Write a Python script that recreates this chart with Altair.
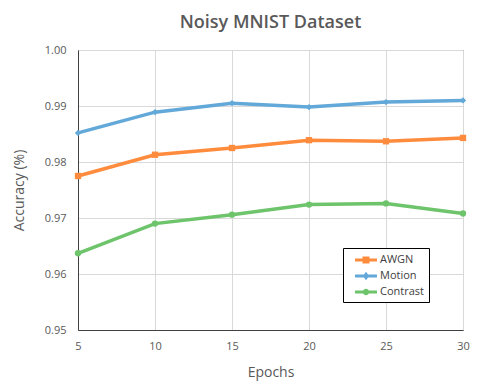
import altair as alt
import pandas as pd

epochs = [5, 10, 15, 20, 25, 30]
awgn = [0.9775, 0.9813, 0.9825, 0.9839, 0.9837, 0.9843]
motion = [0.9852, 0.9889, 0.9905, 0.9898, 0.9907, 0.9910]
contrast = [0.9637, 0.9690, 0.9706, 0.9724, 0.9726, 0.9708]
series_names = ["AWGN", "Motion", "Contrast"]
colors = ["#FF8B3D", "#62A8D8", "#6DC46B"]

rows = []
for name, vals in zip(series_names, [awgn, motion, contrast]):
    for e, v in zip(epochs, vals):
        rows.append({"Epochs": e, "Accuracy": v, "Series": name})
df = pd.DataFrame(rows)

FONT = "Open Sans"
GRAY = "#595959"

x = alt.X("Epochs:Q", scale=alt.Scale(domain=[5, 30], nice=False),
          axis=alt.Axis(values=epochs, title="Epochs", format="d", labelFlush=False))
y = alt.Y("Accuracy:Q", scale=alt.Scale(domain=[0.95, 1.0], nice=False, zero=False),
          axis=alt.Axis(values=[0.95, 0.96, 0.97, 0.98, 0.99, 1.0], format=".2f",
                        title="Accuracy (%)", labelFlush=False))
cscale = alt.Scale(domain=series_names, range=colors)

lines = alt.Chart(df).mark_line(strokeWidth=3.5).encode(
    x=x, y=y, color=alt.Color("Series:N", scale=cscale, legend=None)
)

pts = alt.Chart(df).mark_point(filled=True, opacity=1, size=40).encode(
    x=x, y=y,
    color=alt.Color("Series:N", scale=cscale, legend=None),
    shape=alt.Shape("Series:N", scale=alt.Scale(domain=series_names,
                                                range=["square", "diamond", "circle"]), legend=None),
)

lw = 0.22
L = 1.57
line_path = "M-{L},-{a}L{L},-{a}L{L},{a}L-{L},{a}Z".format(a=lw, L=L)
leg_shapes = [
    line_path + "M-0.5,-0.5L0.5,-0.5L0.5,0.5L-0.5,0.5Z",
    line_path + "M0,-0.6L0.45,0L0,0.6L-0.45,0Z",
    line_path + "M-0.45,0A0.45,0.45,0,1,1,0.45,0A0.45,0.45,0,1,1,-0.45,0Z",
]

legend_opts = dict(title=None, orient="none", legendX=265, legendY=198,
                   symbolOpacity=1, symbolSize=196, symbolStrokeWidth=0,
                   symbolOffset=11, labelOffset=7,
                   labelFont=FONT, labelFontSize=11, labelColor="#404040",
                   strokeColor="#000000", fillColor="#ffffff",
                   padding=5, rowPadding=4)

leg = alt.Chart(df).mark_point(filled=True, opacity=0, size=196).encode(
    x=x, y=y,
    color=alt.Color("Series:N", scale=cscale, legend=alt.Legend(**legend_opts)),
    shape=alt.Shape("Series:N", scale=alt.Scale(domain=series_names, range=leg_shapes),
                    legend=alt.Legend(**legend_opts)),
)

chart = alt.layer(lines, pts, leg).resolve_scale(
    shape="independent", color="independent"
).properties(
    width=385, height=280,
    autosize=alt.AutoSizeParams(type="none"),
    padding={"left": 70, "top": 42, "right": 27, "bottom": 52},
    title=alt.TitleParams("Noisy MNIST Dataset", font=FONT, fontSize=18, fontWeight=600,
                          color=GRAY, anchor="middle", offset=12),
).configure_view(stroke="#595959", strokeWidth=1).configure_axis(
    labelFont=FONT, titleFont=FONT, labelColor=GRAY, titleColor=GRAY,
    labelFontSize=11, titleFontSize=14, titleFontWeight="normal",
    gridColor="#D9D9D9", gridWidth=1, domainColor="#404040", ticks=False,
).configure_axisX(labelPadding=10, titlePadding=14).configure_axisY(labelPadding=12, titlePadding=18)

chart.save("out.html", embed_options={"renderer": "svg", "actions": False})
